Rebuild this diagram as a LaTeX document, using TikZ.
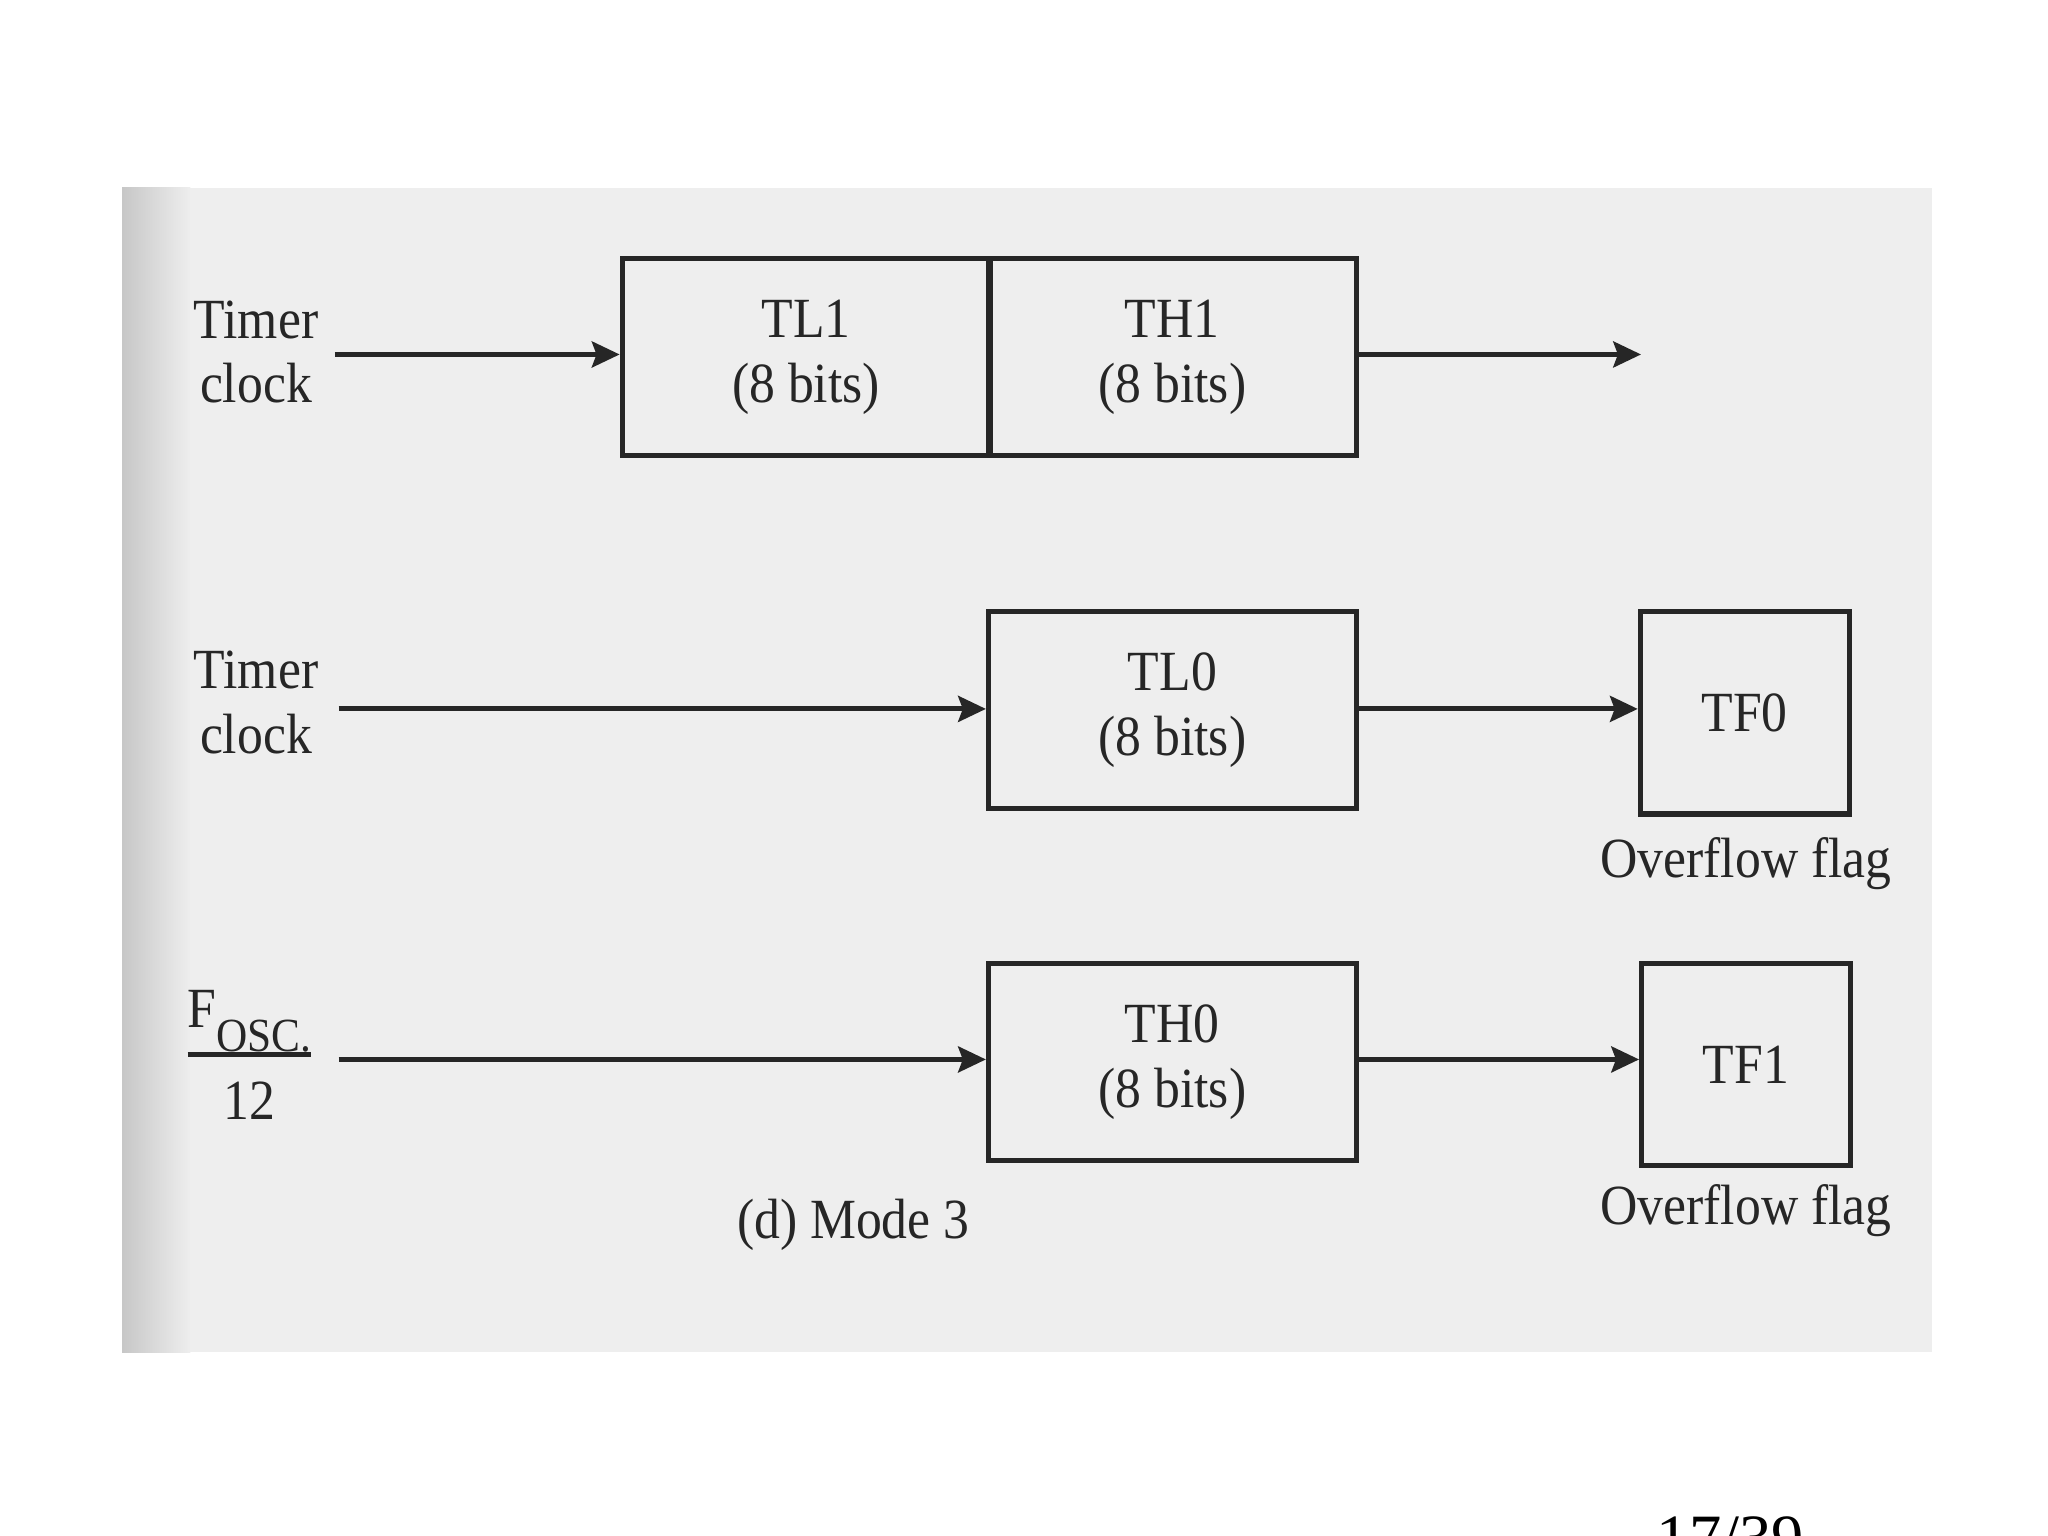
\documentclass[tikz,border=0pt]{standalone}
\usepackage{fontspec}
\setmainfont{Liberation Serif}[FakeStretch=0.91]
\newfontfamily\pagenumfont{Liberation Serif}
\usetikzlibrary{arrows.meta}

\definecolor{pagegray}{HTML}{EEEEEE}
\definecolor{ink}{HTML}{262626}

\tikzset{
  regbox/.style={draw=ink, line width=1.1pt, minimum width=2.8cm, minimum height=1.5cm, align=center, inner sep=0pt},
  flagbox/.style={draw=ink, line width=1.1pt, minimum width=1.59cm, minimum height=1.54cm, inner sep=0pt},
  feed/.style={draw=ink, line width=1.1pt, -{Stealth[length=6pt,width=5.6pt,inset=1pt]}},
  lbl/.style={align=center, inner sep=0pt, text=ink},
}

\begin{document}
\begin{tikzpicture}[x=0.01cm, y=-0.01cm, font=\fontsize{12.3}{14}\selectfont, text=ink]
  \useasboundingbox (0,0) rectangle (1560,1170);
  % scanned page
  \fill[pagegray] (93,143) rectangle (1472,1030);
  \shade[left color=black!22, right color=pagegray] (93,143) rectangle (145,1030);

  % mode 3: timer 1
  \node[lbl] (clk1) at (195,268) {Timer\\clock};
  \coordinate (in1) at (255,270);
  \node[regbox] (tl1) at (614,272) {TL1\\(8 bits)};
  \node[regbox] (th1) at (893,272) {TH1\\(8 bits)};
  \coordinate (out1) at (1250,270);
  \draw[feed] (in1) -- (in1 -| tl1.west);
  \draw[feed] (out1 -| th1.east) -- (out1);

  % mode 3: timer 0, low byte
  \node[lbl] (clk0) at (195,535) {Timer\\clock};
  \coordinate (in0) at (258,540);
  \node[regbox] (tl0) at (893,541) {TL0\\(8 bits)};
  \node[flagbox] (tf0) at (1329,543) {TF0};
  \node[lbl] (ovf0) at (1330,658) {Overflow flag};
  \draw[feed] (in0) -- (in0 -| tl0.west);
  \draw[feed] (tl0.east |- in0) -- (in0 -| tf0.west);

  % mode 3: timer 0, high byte
  \setlength{\arrayrulewidth}{1.1pt}
  \node[lbl] (fosc) at (190,808) {\begin{tabular}{@{}c@{}}F\raisebox{-.9ex}{\fontsize{10.3}{12}\selectfont OSC.}\\[1pt]\hline\rule{0pt}{2.4ex}12\end{tabular}};
  \coordinate (in2) at (258,807);
  \node[regbox] (th0) at (893,809) {TH0\\(8 bits)};
  \node[flagbox] (tf1) at (1330,811) {TF1};
  \node[lbl] (ovf1) at (1330,922) {Overflow flag};
  \draw[feed] (in2) -- (in2 -| th0.west);
  \draw[feed] (th0.east |- in2) -- (in2 -| tf1.west);

  \node[lbl] (caption) at (650,933) {(d) Mode 3};
  \node[lbl, font=\pagenumfont\fontsize{14}{16}\selectfont, text=black] (pagenum) at (1318,1172) {17/39};
\end{tikzpicture}
\end{document}
